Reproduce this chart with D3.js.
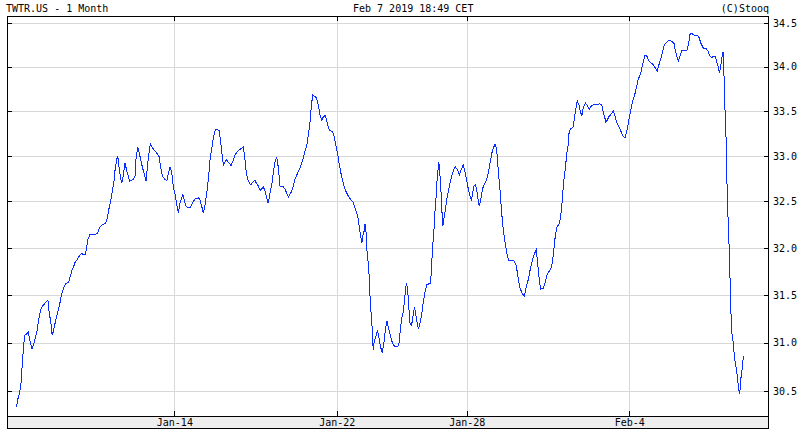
<!DOCTYPE html>
<html>
<head>
<meta charset="utf-8">
<script src="https://cdn.jsdelivr.net/npm/d3@7"></script>
<style>
  body { margin: 0; background: #fff; }
  text { font-family: "DejaVu Sans Mono", monospace; font-size: 10px; fill: #000; }
</style>
</head>
<body>
<div id="chart"></div>
<script>
// TWTR.US intraday, 1 month. session = trading session index (0 = Jan 7 open, fractional part = time of day)
const session = [
  0.14,0.19,0.24,0.29,0.31,0.34,0.37,0.40,0.45,0.51,0.54,0.58,0.62,0.67,0.72,0.78,0.82,0.88,0.94,1.01,
  1.06,1.11,1.15,1.20,1.24,1.28,1.32,1.37,1.42,1.47,1.52,1.58,1.65,1.75,1.79,1.85,1.90,1.95,2.02,2.07,
  2.14,2.20,2.26,2.30,2.34,2.40,2.63,2.70,2.78,2.88,2.94,2.98,3.04,3.09,3.14,3.18,3.24,3.26,
  3.28,3.32,3.38,3.43,3.48,3.54,3.58,3.62,3.66,3.74,3.79,3.82,3.87,3.92,4.00,4.05,4.13,4.17,4.22,4.26,
  4.31,4.38,4.46,4.53,4.58,4.63,4.71,4.77,4.82,4.87,4.92,4.97,5.02,5.07,5.12,5.18,5.23,5.26,5.30,5.36,
  5.43,5.50,5.58,5.65,5.74,5.79,5.84,5.89,5.94,6.00,6.05,6.10,
  6.15,6.20,6.26,6.31,6.38,6.43,6.47,6.51,6.56,6.61,6.66,6.71,6.74,6.80,6.87,6.94,7.02,7.09,7.12,7.17,
  7.21,7.26,7.31,7.36,7.41,7.48,7.54,7.58,7.64,7.69,7.74,7.79,7.84,7.89,7.94,8.00,8.05,8.10,8.15,8.20,
  8.25,8.35,8.41,8.46,8.51,8.56,8.61,8.66,8.71,8.77,8.82,8.87,8.92,8.97,9.02,9.07,9.12,9.18,9.22,9.26,
  9.33,9.38,9.43,9.48,
  9.54,9.58,9.65,9.69,9.74,9.79,9.86,9.91,9.97,10.02,10.07,10.12,10.17,10.22,10.28,10.35,10.43,10.49,10.54,10.61,
  10.66,10.71,10.77,10.80,10.84,10.87,10.90,10.92,10.97,11.00,11.02,11.05,11.08,11.12,11.15,11.20,11.25,11.30,11.35,11.40,
  11.45,11.49,11.54,11.58,11.64,11.69,11.74,11.79,11.86,11.91,11.94,12.00,12.05,12.10,12.14,12.18,12.21,12.25,12.30,12.35,
  12.39,12.44,12.51,12.56,
  12.61,12.66,12.71,12.77,12.87,12.90,12.92,12.95,12.99,13.01,13.05,13.07,13.11,13.14,13.17,13.20,13.23,13.26,13.30,13.34,
  13.38,13.43,13.48,13.54,13.58,13.64,13.71,13.77,13.82,13.89,13.94,14.00,14.05,14.10,14.14,14.18,14.22,14.27,14.32,14.38,
  14.42,14.46,14.51,14.58,14.63,14.67,14.71,14.77,14.82,14.87,14.92,14.97,15.02,15.07,15.12,15.18,15.23,15.28,15.38,15.45,
  15.51,15.55,15.59,15.64,
  15.71,15.77,15.82,15.89,15.94,16.00,16.05,16.10,16.14,16.18,16.22,16.27,16.35,16.41,16.46,16.51,16.58,16.63,16.68,16.71,
  16.77,16.85,16.89,16.94,16.97,17.00,17.04,17.07,17.12,17.15,17.20,17.28,17.31,17.36,17.40,17.45,17.49,17.54,17.58,17.65,
  17.71,17.77,17.82,17.89,18.00,18.08,18.15,18.20,18.25,18.28,18.34,18.38,18.46,18.51,18.56,18.61,18.66,18.71,
  18.77,18.82,18.87,18.92,18.97,19.02,19.07,19.12,19.18,19.23,19.28,19.35,19.39,19.43,19.48,19.54,19.58,19.64,19.72,19.79,
  19.86,19.92,19.98,20.03,20.08,20.15,20.23,20.30,20.38,20.42,20.46,20.51,20.56,20.62,20.68,20.77,20.82,20.87,20.92,20.99,
  21.07,21.14,21.20,21.28,21.38,21.43,21.48,21.54,21.59,21.64,21.69,21.74,21.77,21.81,21.84,21.87,21.89,21.91,21.94,21.98,
  22.00,22.03,22.07,22.10,22.13,22.16,22.20,22.24,22.28,22.32,22.37,22.40,22.43,22.47,22.51
];

const close = [
  30.34,30.43,30.49,30.60,30.73,30.87,31.00,31.08,31.09,31.11,31.04,30.99,30.94,30.98,31.05,31.13,31.23,31.34,31.38,31.41,
  31.43,31.44,31.31,31.21,31.08,31.12,31.19,31.26,31.33,31.40,31.49,31.56,31.62,31.63,31.69,31.76,31.80,31.85,31.88,31.91,
  31.94,31.93,31.93,32.00,32.09,32.14,32.15,32.22,32.25,32.26,32.32,32.41,32.50,32.61,32.71,32.86,32.98,33.00,
  32.92,32.81,32.70,32.78,32.92,32.83,32.78,32.72,32.73,32.74,32.78,32.96,33.10,33.03,32.90,32.83,32.72,32.88,33.03,33.13,
  33.10,33.06,33.03,32.99,32.87,32.78,32.74,32.73,32.81,32.88,32.81,32.65,32.58,32.47,32.38,32.49,32.54,32.58,32.52,32.45,
  32.43,32.44,32.50,32.53,32.54,32.52,32.45,32.38,32.45,32.60,32.76,32.96,
  33.08,33.20,33.29,33.29,33.28,33.14,33.01,32.90,32.93,32.96,32.93,32.91,32.89,32.94,33.01,33.05,33.07,33.09,33.10,32.97,
  32.83,32.74,32.70,32.68,32.71,32.73,32.69,32.67,32.62,32.64,32.66,32.61,32.54,32.48,32.58,32.69,32.83,32.94,32.99,32.87,
  32.67,32.66,32.63,32.59,32.55,32.58,32.61,32.67,32.74,32.79,32.83,32.87,32.92,32.98,33.05,33.10,33.22,33.39,33.57,33.68,
  33.66,33.64,33.56,33.46,
  33.39,33.43,33.45,33.39,33.31,33.28,33.27,33.23,33.12,33.03,32.92,32.82,32.74,32.67,32.61,32.56,32.52,32.50,32.45,32.38,
  32.31,32.18,32.05,32.13,32.18,32.26,32.16,32.00,31.82,31.68,31.50,31.33,31.19,30.93,31.01,31.06,31.13,31.05,30.95,30.90,
  31.00,31.12,31.23,31.17,31.09,31.02,30.98,30.96,30.96,30.98,31.09,31.26,31.33,31.50,31.63,31.56,31.40,31.21,31.18,31.29,
  31.37,31.27,31.14,31.21,
  31.29,31.42,31.52,31.61,31.62,31.70,31.84,32.02,32.20,32.34,32.52,32.67,32.83,32.93,32.81,32.65,32.43,32.23,32.32,32.41,
  32.52,32.61,32.70,32.78,32.83,32.88,32.85,32.79,32.84,32.90,32.83,32.72,32.63,32.56,32.51,32.59,32.67,32.68,32.59,32.45,
  32.50,32.59,32.67,32.71,32.76,32.83,32.91,33.03,33.09,33.13,33.07,32.83,32.63,32.39,32.20,32.05,31.95,31.87,31.87,31.86,
  31.82,31.75,31.65,31.57,
  31.51,31.49,31.57,31.66,31.75,31.84,31.91,31.95,31.98,31.84,31.70,31.56,31.57,31.63,31.70,31.74,31.77,31.84,31.98,32.09,
  32.22,32.26,32.34,32.52,32.67,32.78,32.88,33.01,33.12,33.27,33.30,33.32,33.42,33.53,33.61,33.57,33.50,33.44,33.53,33.59,
  33.56,33.52,33.55,33.57,33.57,33.58,33.57,33.48,33.42,33.37,33.41,33.44,33.47,33.50,33.44,33.37,33.34,33.30,
  33.25,33.21,33.20,33.27,33.36,33.46,33.55,33.63,33.70,33.78,33.86,33.92,33.99,34.05,34.13,34.12,34.08,34.05,34.03,33.99,
  33.95,34.03,34.10,34.18,34.25,34.28,34.30,34.29,34.26,34.18,34.12,34.06,34.12,34.19,34.18,34.18,34.25,34.37,34.38,34.36,
  34.36,34.34,34.27,34.21,34.20,34.17,34.12,34.10,34.12,34.12,34.06,33.99,33.93,33.99,34.08,34.14,34.17,33.97,33.57,33.18,
  32.79,32.41,32.04,31.68,31.31,31.09,31.00,30.84,30.76,30.67,30.52,30.47,30.62,30.72,30.86
];

const priceTicks = [30.5, 31.0, 31.5, 32.0, 32.5, 33.0, 33.5, 34.0, 34.5];
const dateTicks = [5, 10, 14, 19];
const dateLabels = ["Jan-14", "Jan-22", "Jan-28", "Feb-4"];

// set the dimensions of the plot box
const width = 804, height = 429;
const boxLeft = 7, boxRight = 769, boxTop = 16, boxBottom = 416, band = 12;

var svg = d3.select("#chart")
  .append("svg")
    .attr("width", width)
    .attr("height", height)
    .style("display", "block");

// scales (price axis is logarithmic)
var x = d3.scaleLinear()
  .domain([-0.15, 23.3])
  .range([boxLeft, boxRight]);

var y = d3.scaleLog()
  .domain([30.25, 34.58])
  .range([boxBottom, boxTop]);

// grid
svg.append("g")
  .selectAll("line")
  .data(priceTicks)
  .join("line")
    .attr("x1", boxLeft).attr("x2", boxRight)
    .attr("y1", d => Math.round(y(d)) + 0.5)
    .attr("y2", d => Math.round(y(d)) + 0.5)
    .attr("stroke", "#d8d8d8");

svg.append("g")
  .selectAll("line")
  .data(dateTicks)
  .join("line")
    .attr("x1", d => Math.round(x(d)) + 0.5)
    .attr("x2", d => Math.round(x(d)) + 0.5)
    .attr("y1", boxTop).attr("y2", boxBottom)
    .attr("stroke", "#d8d8d8");

// price line
var line = d3.line()
  .x((d, i) => x(session[i]))
  .y(d => y(d));

svg.append("path")
  .datum(close)
  .attr("d", line)
  .attr("fill", "none")
  .attr("stroke", "#0a2dff")
  .attr("stroke-width", 1)
  .style("shape-rendering", "crispEdges");

// frame and date band
svg.append("rect")
  .attr("x", boxLeft + 0.5).attr("y", boxBottom + 0.5)
  .attr("width", boxRight - boxLeft - 1).attr("height", band)
  .attr("fill", "#eeeeee")
  .attr("stroke", "#000");

svg.append("rect")
  .attr("x", boxLeft + 0.5).attr("y", boxTop + 0.5)
  .attr("width", boxRight - boxLeft - 1).attr("height", boxBottom - boxTop)
  .attr("fill", "none")
  .attr("stroke", "#000");

// small ticks on the inside of the frame
const tk = 5;
var ticks = svg.append("g").attr("stroke", "#000");
priceTicks.forEach(function(d) {
  var yy = Math.round(y(d)) + 0.5;
  ticks.append("line").attr("x1", boxLeft).attr("x2", boxLeft + tk).attr("y1", yy).attr("y2", yy);
  ticks.append("line").attr("x1", boxRight - tk).attr("x2", boxRight).attr("y1", yy).attr("y2", yy);
});
dateTicks.forEach(function(d) {
  var xx = Math.round(x(d)) + 0.5;
  ticks.append("line").attr("x1", xx).attr("x2", xx).attr("y1", boxTop).attr("y2", boxTop + tk);
  ticks.append("line").attr("x1", xx).attr("x2", xx).attr("y1", boxBottom - tk).attr("y2", boxBottom);
});

// Y axis labels (right)
var yAxis = svg.append("g")
  .attr("transform", "translate(" + boxRight + ",0)")
  .call(d3.axisRight(y).tickValues(priceTicks).tickSize(0).tickPadding(4).tickFormat(d3.format(".1f")));
yAxis.select(".domain").remove();
yAxis.selectAll("text").attr("font-family", null).attr("font-size", null);

// X axis labels (in the band)
var xAxis = svg.append("g")
  .attr("transform", "translate(0," + boxBottom + ")")
  .call(d3.axisBottom(x).tickValues(dateTicks).tickSize(0).tickPadding(3).tickFormat((d, i) => dateLabels[i]));
xAxis.select(".domain").remove();
xAxis.selectAll("text").attr("font-family", null).attr("font-size", null);

// header
svg.append("text").attr("x", 6).attr("y", 12).text("TWTR.US - 1 Month");
svg.append("text").attr("x", 353).attr("y", 12).text("Feb 7 2019 18:49 CET");
svg.append("text").attr("x", boxRight).attr("y", 12).attr("text-anchor", "end").text("(C)Stooq");
</script>
</body>
</html>
